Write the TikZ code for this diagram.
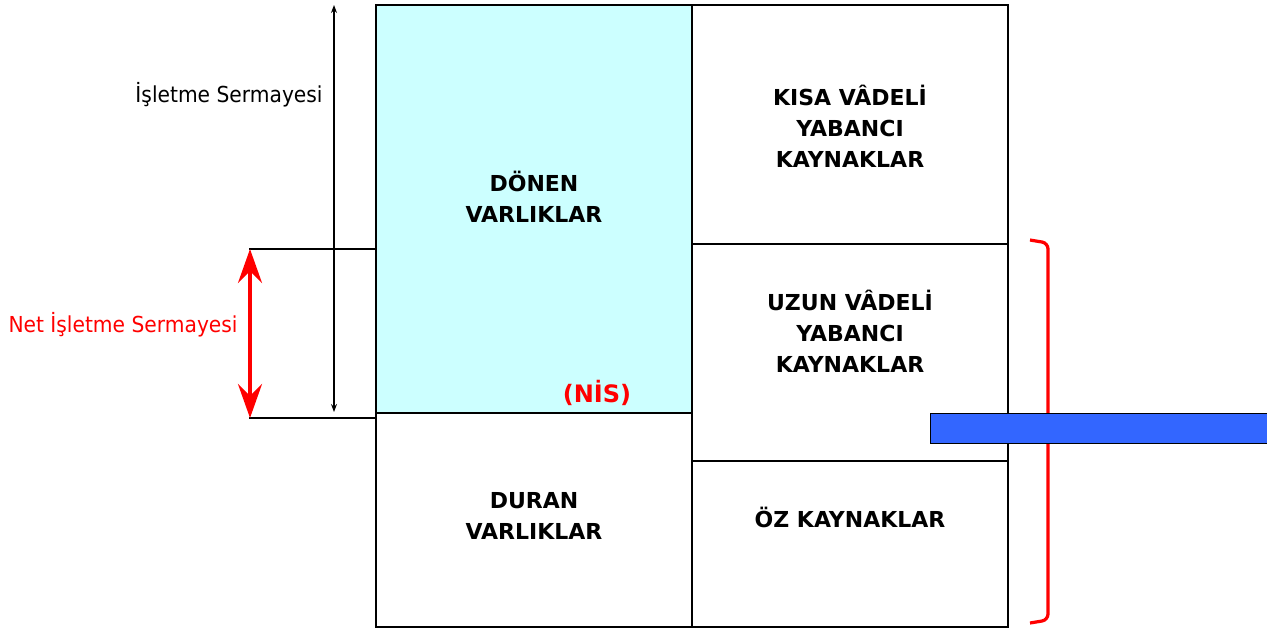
\documentclass[tikz,border=0pt]{standalone}
\usepackage{fontspec}
\setmainfont{DejaVu Sans}
\newfontfamily\sidefont[FakeStretch=0.92]{DejaVu Sans}
\usetikzlibrary{positioning,arrows.meta}
\definecolor{donen}{RGB}{204,255,255}
\definecolor{bar}{RGB}{51,102,255}
\definecolor{nisred}{RGB}{255,0,0}

\begin{document}
\begin{tikzpicture}[x=0.5pt, y=-0.5pt,
  box/.style={rectangle, draw, line width=0.6pt, minimum width=158pt, inner sep=0pt},
  lbl/.style={align=center, font=\fontsize{11}{15.5}\selectfont\bfseries},
  side/.style={font=\sidefont\fontsize{11}{12}\selectfont, inner sep=1pt},
  arr/.style={{Stealth[length=4pt, width=3pt]}-{Stealth[length=4pt, width=3pt]}, line width=0.6pt},
  bigarr/.style={{Stealth[length=17pt, width=12pt, inset=6pt]}-{Stealth[length=17pt, width=12pt, inset=6pt]}, line width=2pt, nisred}]
\useasboundingbox (0,0) rectangle (1267,628);
% balance sheet columns
\node[box, fill=donen, minimum height=204pt] (dv) at (534,209) {};
\node[box, minimum height=107pt] (fv) at (534,520) {};
\node[box, minimum height=119.5pt] (kk) at (850,124.5) {};
\node[box, minimum height=108.5pt] (uk) at (850,352.5) {};
\node[box, minimum height=83pt] (ok) at (850,544) {};
\node[lbl] (dvt) at (534,197) {DÖNEN\\VARLIKLAR};
\node[lbl] (fvt) at (534,516) {DURAN\\VARLIKLAR};
\node[lbl] (kkt) at (850,126) {KISA VÂDELİ\\YABANCI\\KAYNAKLAR};
\node[lbl] (ukt) at (850,331) {UZUN VÂDELİ\\YABANCI\\KAYNAKLAR};
\node[lbl] (okt) at (850,517) {ÖZ KAYNAKLAR};
\node[lbl, text=nisred, font=\fontsize{12}{14}\selectfont\bfseries] (nis) at (597,393) {(NİS)};
% working capital
\coordinate (ist) at (334,5);
\coordinate (isb) at (334,412);
\draw[arr] (ist) -- (isb);
\node[side, anchor=east] (isl) at (325,95) {İşletme Sermayesi};
\coordinate (nt) at (249,249);
\coordinate (nb) at (249,418);
\draw[line width=0.8pt] (nt) -- (nt -| dv.west);
\draw[line width=0.8pt] (nb) -- (nb -| dv.west);
\draw[bigarr] ([xshift=0.5pt]nt) -- ([xshift=0.5pt]nb);
\node[side, text=nisred, anchor=east] (nisl) at (240,325) {Net İşletme Sermayesi};
% long-term sources
\coordinate (bt) at (1030,240);
\coordinate (bb) at (1030,623);
\draw[nisred, line width=1.6pt, rounded corners=3pt] (bt) -- ++(18,3) -- ++(0,377) -- (bb);
\node[draw, fill=bar, line width=0.5pt, minimum width=168.5pt, minimum height=15pt, inner sep=0pt, anchor=north west] (bl) at (930,413) {};
\end{tikzpicture}
\end{document}
